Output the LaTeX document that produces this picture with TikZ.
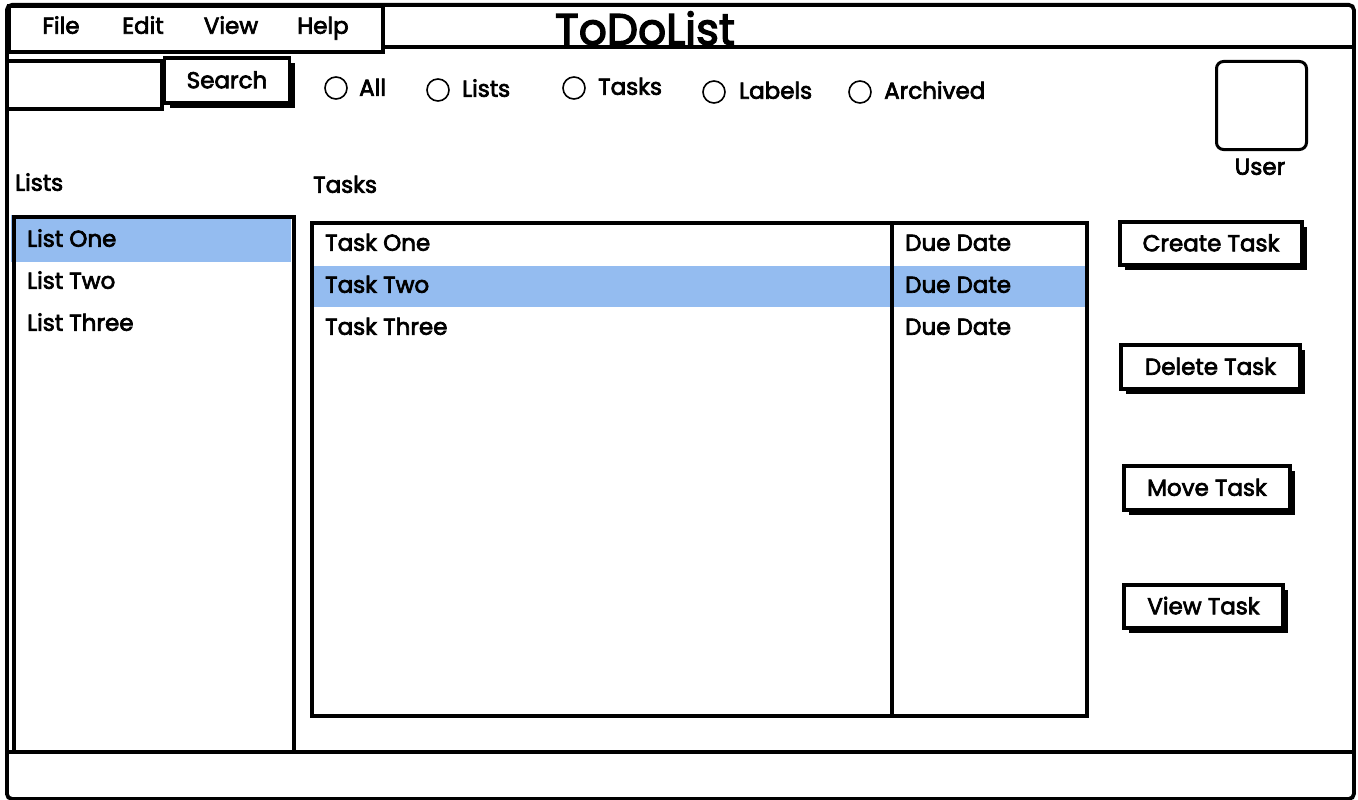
\documentclass[tikz,border=0pt]{standalone}
\usepackage{fontspec}
\setmainfont{Poppins}[FakeBold=3]
\usetikzlibrary{shadows}
\definecolor{selblue}{RGB}{148,188,240}
\begin{document}
\begin{tikzpicture}[x=1pt,y=-1pt,
  frame/.style={draw=black,line width=3.8pt},
  boxnode/.style={frame,inner sep=0pt,anchor=north west},
  txt/.style={font=\fontsize{23}{26}\selectfont,inner sep=0pt,text=black,text height=20.5pt,text depth=5pt},
  ltxt/.style={txt,anchor=west},
  btn/.style={draw=black,fill=white,line width=3.2pt,inner sep=0pt,
     font=\fontsize{23}{26}\selectfont,text height=20.5pt,text depth=5pt,
     general shadow={fill=black,shadow xshift=5pt,shadow yshift=-5pt}},
  radio/.style={circle,draw=black,line width=1.6pt,minimum size=22pt,inner sep=0pt},
  selrow/.style={fill=selblue,draw=none,inner sep=0pt,anchor=north west}
]
\useasboundingbox (0,0) rectangle (1358,800);
\fill[white] (0,0) rectangle (1358,800);

% window frame
\node[boxnode,minimum width=1347pt,minimum height=794pt,rounded corners=5pt] (win) at (5,3) {};
\coordinate (tbL) at (381,47);
\coordinate (tbR) at (1352,47);
\draw[frame] (tbL) -- (tbR);
\coordinate (sbL) at (5,752);
\coordinate (sbR) at (1352,752);
\draw[frame] (sbL) -- (sbR);

% menu
\node[boxnode,fill=white,minimum width=374pt,minimum height=46pt] (menu) at (7,4) {};
\node[txt] (mfile) at (61,26) {File};
\node[txt] (medit) at (143,26) {Edit};
\node[txt] (mview) at (231,26) {View};
\node[txt] (mhelp) at (323,26) {Help};

% title
\node[txt,font=\fontsize{44}{48}\selectfont,text height=32pt,text depth=0pt,anchor=south] (title) at (645,45) {ToDoList};

% search
\node[boxnode,minimum width=155pt,minimum height=48pt] (sinput) at (5,59) {};
\node[btn,minimum width=125pt,minimum height=45pt] (sbtn) at (227,80.5) {Search};

% radio buttons
\node[radio] (rall) at (336,88) {};
\node[ltxt] (tall) at (359,88) {All};
\node[radio] (rlists) at (438,90) {};
\node[ltxt] (tlists) at (462,89) {Lists};
\node[radio] (rtasks) at (574,88) {};
\node[ltxt] (ttasks) at (598,87) {Tasks};
\node[radio] (rlabels) at (714,92) {};
\node[ltxt] (tlabels) at (739,91) {Labels};
\node[radio] (rarch) at (860,92) {};
\node[ltxt] (tarch) at (884,91) {Archived};

% user
\node[boxnode,line width=3pt,rounded corners=7pt,minimum width=90pt,minimum height=88pt] (user) at (1215,60) {};
\node[txt] (tuser) at (1260,167) {User};

% section labels
\node[ltxt] (llists) at (15,183) {Lists};
\node[ltxt] (ltasks) at (313,185) {Tasks};

% lists panel
\node[selrow,minimum width=280pt,minimum height=47pt] (lsel) at (11,215) {};
\node[boxnode,minimum width=280pt,minimum height=535pt] (lbox) at (12,215) {};
\node[ltxt] (l1) at (27,239) {List One};
\node[ltxt] (l2) at (27,281) {List Two};
\node[ltxt] (l3) at (27,323) {List Three};

% tasks panel
\node[selrow,minimum width=775pt,minimum height=41pt] (tsel) at (310,266) {};
\node[boxnode,minimum width=580pt,minimum height=493pt] (tbox) at (310,221) {};
\node[boxnode,minimum width=195pt,minimum height=493pt] (dbox) at (890,221) {};
\node[ltxt] (t1) at (325,243) {Task One};
\node[ltxt] (t2) at (325,285) {Task Two};
\node[ltxt] (t3) at (325,327) {Task Three};
\node[ltxt] (d1) at (905,243) {Due Date};
\node[ltxt] (d2) at (905,285) {Due Date};
\node[ltxt] (d3) at (905,327) {Due Date};

% action buttons
\node[btn,minimum width=182pt,minimum height=43pt] (bcreate) at (1211,243.5) {Create Task};
\node[btn,minimum width=179pt,minimum height=44pt] (bdelete) at (1210.5,367) {Delete Task};
\node[btn,minimum width=166pt,minimum height=44pt] (bmove) at (1207,488) {Move Task};
\node[btn,minimum width=159pt,minimum height=43pt] (bview) at (1203.5,606.5) {View Task};
\end{tikzpicture}
\end{document}
